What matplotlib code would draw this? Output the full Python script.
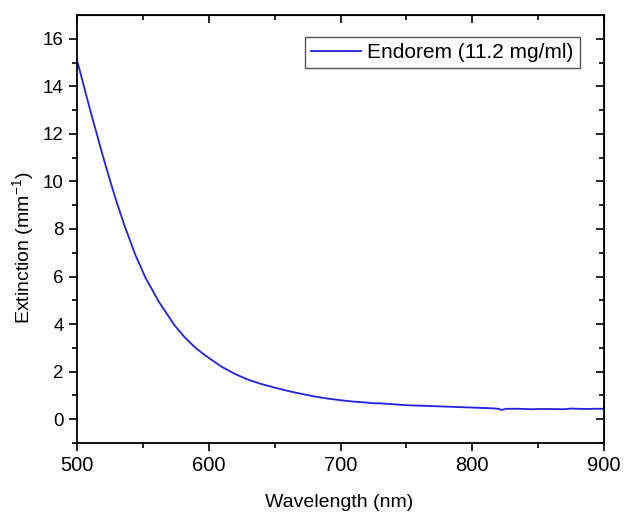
import matplotlib.pyplot as plt

plt.rcParams['font.family'] = ['Liberation Sans', 'DejaVu Sans']
plt.rcParams['mathtext.fontset'] = 'custom'
plt.rcParams['mathtext.rm'] = 'Liberation Sans'
plt.rcParams['mathtext.it'] = 'Liberation Sans'

# Spectre d'extinction
longueurs_onde = [500, 505, 510, 515, 520, 525, 530, 536, 544, 552, 562, 574, 582, 590,
                  596, 600, 610, 620, 630, 640, 650, 660, 670, 680, 690, 700,
                  710, 720, 725, 730, 740, 745, 750, 760, 770, 780, 790, 800,
                  810, 815, 820, 822, 826, 835, 845, 850, 860, 870, 875, 885, 893, 900]
extinction = [15.1, 14.05, 13.0, 12.0, 11.0, 10.05, 9.15, 8.15, 6.95, 5.95, 4.95, 3.95, 3.43, 3.0,
              2.74, 2.58, 2.2, 1.9, 1.66, 1.48, 1.33, 1.19, 1.07, 0.96, 0.87, 0.8,
              0.74, 0.70, 0.67, 0.67, 0.63, 0.61, 0.59, 0.57, 0.55, 0.53, 0.51, 0.49,
              0.47, 0.46, 0.44, 0.39, 0.44, 0.44, 0.42, 0.43, 0.43, 0.42, 0.45, 0.43, 0.44, 0.44]
legende = "Endorem (11.2 mg/ml)"

fig = plt.figure(figsize=(6.24, 5.15), dpi=100)
ax = fig.add_axes([0.1234, 0.1398, 0.8446, 0.8311])

ax.plot(longueurs_onde, extinction, color="#2222dd", lw=1.3, label=legende)

ax.set_xlim(500, 900)
ax.set_ylim(-1, 17)
ax.set_xticks([500, 600, 700, 800, 900])
ax.set_xticks(range(550, 900, 100), minor=True)
ax.set_yticks(range(0, 17, 2))
ax.set_yticks(range(-1, 17, 2), minor=True)

ax.tick_params(axis='both', which='major', direction='out', length=6, width=1.2)
ax.tick_params(axis='both', which='minor', direction='out', length=3.5, width=1.2)
ax.tick_params(axis='x', labelsize=14.5)
ax.tick_params(axis='y', labelsize=13.5)
for s in ax.spines.values():
    s.set_linewidth(1.3)

# Graduations internes sur les axes du haut et de droite
ax_haut = ax.secondary_xaxis('top')
ax_haut.set_xticks([500, 600, 700, 800, 900], labels=[])
ax_haut.set_xticks(range(550, 900, 100), minor=True)
ax_haut.tick_params(which='major', direction='in', length=6, width=1.2)
ax_haut.tick_params(which='minor', direction='in', length=3.5, width=1.2)
ax_droite = ax.secondary_yaxis('right')
ax_droite.set_yticks(range(0, 17, 2), labels=[])
ax_droite.set_yticks(range(-1, 17, 2), minor=True)
ax_droite.tick_params(which='major', direction='in', length=6, width=1.2)
ax_droite.tick_params(which='minor', direction='in', length=3.5, width=1.2)

ax.set_xlabel("Wavelength (nm)", fontsize=14)
ax.set_ylabel("Extinction (mm$^{-1}$)", fontsize=14)
ax.xaxis.set_label_coords(0.497, -0.119)
ax.yaxis.set_label_coords(-0.078, 0.456)

leg = ax.legend(loc='upper right', bbox_to_anchor=(0.954, 0.949), fontsize=15,
                fancybox=False, edgecolor="#555555", framealpha=1,
                handlelength=2.4, handletextpad=0.3, borderpad=0.3,
                borderaxespad=0)
leg.get_frame().set_linewidth(1.0)

fig.savefig("out.png", dpi=100)
